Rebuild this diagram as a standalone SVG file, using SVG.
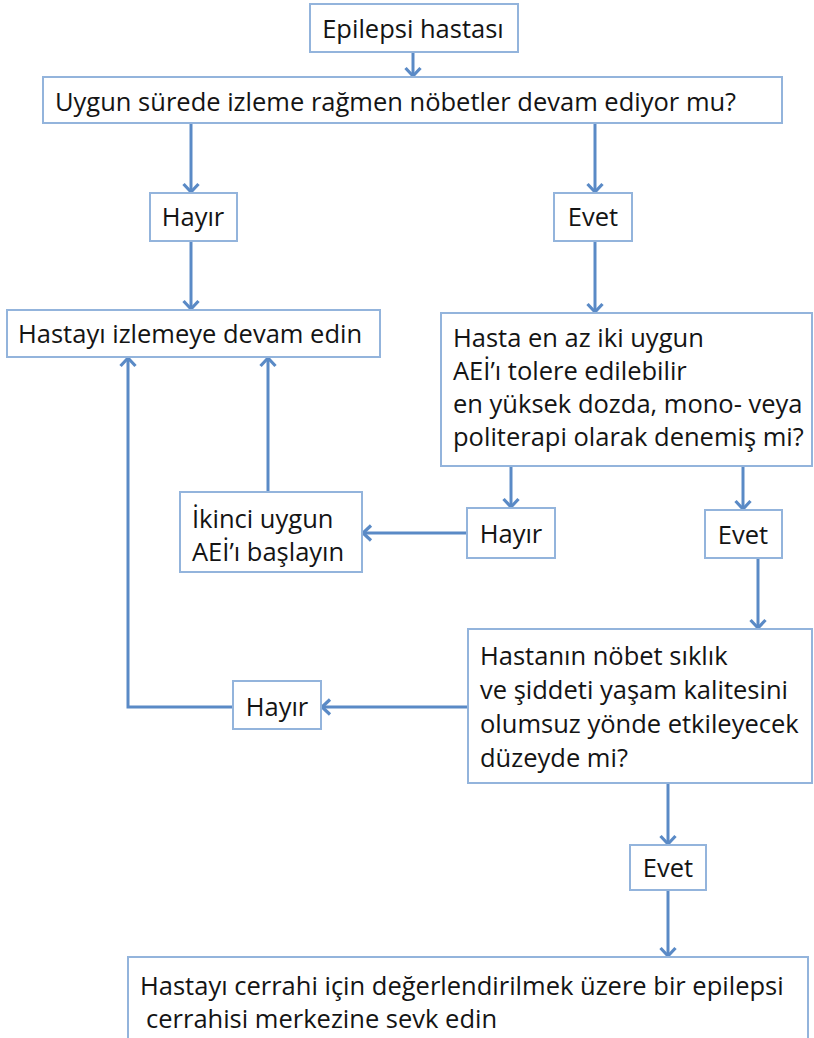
<svg xmlns="http://www.w3.org/2000/svg" width="814" height="1038" viewBox="0 0 814 1038">
  <style>
    .box { fill: #ffffff; stroke: #93b4dc; stroke-width: 2; }
    .lbl { font-family: "Open Sans", Lato, "Liberation Sans", sans-serif; font-size: 25.5px; fill: #141414; }
    .mid { text-anchor: middle; }
    .conn { fill: none; stroke: #5a8ac6; stroke-width: 3; }
  </style>
  <defs>
    <marker id="arrow" markerUnits="userSpaceOnUse" markerWidth="24" markerHeight="24" viewBox="-12 -12 24 24" refX="0" refY="0" orient="auto">
      <path d="M-9,-7.5 L-1,0 L-9,7.5" fill="none" stroke="#5a8ac6" stroke-width="3.2" stroke-linejoin="miter"/>
    </marker>
  </defs>
  <rect width="814" height="1038" fill="#ffffff"/>

  <!-- connectors -->
  <g id="connectors" class="conn" marker-end="url(#arrow)">
    <path d="M413,52 V77"/>
    <path d="M191,123 V193"/>
    <path d="M595,123 V193"/>
    <path d="M191,241 V310"/>
    <path d="M595,241 V313"/>
    <path d="M511,466 V508"/>
    <path d="M743,466 V510"/>
    <path d="M467,533 H362"/>
    <path d="M268,492 V357"/>
    <path d="M758,558 V629"/>
    <path d="M468,707 H321"/>
    <path d="M233,707 H128 V357"/>
    <path d="M668,783 V845"/>
    <path d="M668,890 V957"/>
  </g>

  <g id="start">
    <rect class="box" x="310" y="4" width="208" height="48"/>
    <text class="lbl mid" x="413" y="38">Epilepsi hastası</text>
  </g>
  <g id="q1">
    <rect class="box" x="43" y="77" width="739" height="46"/>
    <text class="lbl" x="55" y="111">Uygun sürede izleme rağmen nöbetler devam ediyor mu?</text>
  </g>
  <g id="q1-no">
    <rect class="box" x="150" y="193" width="87" height="48"/>
    <text class="lbl mid" x="193" y="226">Hayır</text>
  </g>
  <g id="q1-yes">
    <rect class="box" x="554" y="193" width="78" height="48"/>
    <text class="lbl mid" x="593" y="226">Evet</text>
  </g>
  <g id="monitor">
    <rect class="box" x="7" y="310" width="373" height="47"/>
    <text class="lbl" x="18" y="343">Hastayı izlemeye devam edin</text>
  </g>
  <g id="q2">
    <rect class="box" x="441" y="313" width="371" height="153"/>
    <text class="lbl" x="453" y="347">Hasta en az iki uygun</text>
    <text class="lbl" x="453" y="380">AEİ’ı tolere edilebilir</text>
    <text class="lbl" x="453" y="413">en yüksek dozda, mono- veya</text>
    <text class="lbl" x="453" y="446">politerapi olarak denemiş mi?</text>
  </g>
  <g id="second-aed">
    <rect class="box" x="180" y="492" width="182" height="80"/>
    <text class="lbl" x="192" y="528">İkinci uygun</text>
    <text class="lbl" x="192" y="561">AEİ’ı başlayın</text>
  </g>
  <g id="q2-no">
    <rect class="box" x="467" y="508" width="88" height="50"/>
    <text class="lbl mid" x="511" y="543">Hayır</text>
  </g>
  <g id="q2-yes">
    <rect class="box" x="705" y="510" width="77" height="48"/>
    <text class="lbl mid" x="743" y="544">Evet</text>
  </g>
  <g id="q3">
    <rect class="box" x="468" y="629" width="344" height="154"/>
    <text class="lbl" x="480" y="665">Hastanın nöbet sıklık</text>
    <text class="lbl" x="480" y="699">ve şiddeti yaşam kalitesini</text>
    <text class="lbl" x="480" y="733">olumsuz yönde etkileyecek</text>
    <text class="lbl" x="480" y="767">düzeyde mi?</text>
  </g>
  <g id="q3-no">
    <rect class="box" x="233" y="681" width="88" height="48"/>
    <text class="lbl mid" x="277" y="716">Hayır</text>
  </g>
  <g id="q3-yes">
    <rect class="box" x="630" y="845" width="76" height="45"/>
    <text class="lbl mid" x="668" y="877">Evet</text>
  </g>
  <g id="refer">
    <rect class="box" x="128" y="957" width="680" height="90"/>
    <text class="lbl" x="140" y="995">Hastayı cerrahi için değerlendirilmek üzere bir epilepsi</text>
    <text class="lbl" x="146" y="1028">cerrahisi merkezine sevk edin</text>
  </g>
</svg>
